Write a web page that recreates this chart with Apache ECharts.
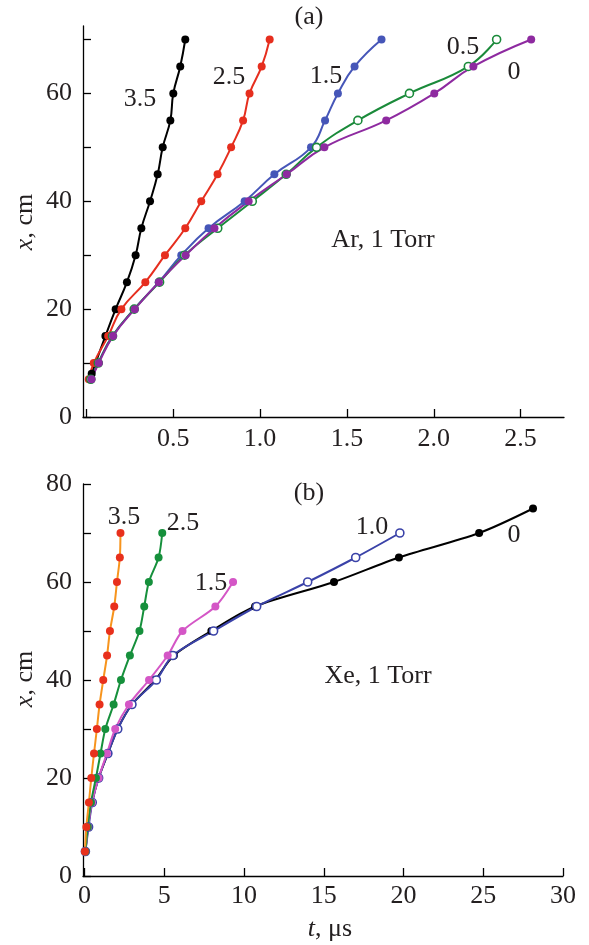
<!DOCTYPE html>
<html><head><meta charset="utf-8">
<script src="https://cdn.jsdelivr.net/npm/echarts@6/dist/echarts.min.js"></script>
<style>html,body{margin:0;padding:0;background:#fff}#c{width:589px;height:945px}</style>
</head><body><div id="c"></div>
<script>
// ---- Panel (a): Ar, 1 Torr ----
const aX = [7,10,15,20,25,30,35,40,45,50,55,60,65,70];
const aBlackX = [8,10,15,20,25,30,35,40,45,50,55,60,65,70];
const aBlackT = [0.03,0.052,0.109,0.168,0.233,0.283,0.316,0.366,0.410,0.439,0.483,0.500,0.540,0.569];
const aRedT   = [0.013,0.042,0.125,0.201,0.339,0.452,0.569,0.661,0.755,0.833,0.902,0.939,1.009,1.055];
const aBlueT  = [0.025,0.067,0.149,0.274,0.416,0.546,0.703,0.911,1.082,1.293,1.374,1.448,1.544,1.699];
const aGreenT = [0.025,0.068,0.150,0.275,0.421,0.565,0.756,0.955,1.150,1.325,1.563,1.860,2.199,2.362];
const aPurpleT= [0.029,0.071,0.153,0.278,0.417,0.571,0.737,0.934,1.153,1.370,1.726,2.003,2.228,2.561];
const aXTicks = [0,0.5,1,1.5,2,2.5];
const aXLabels = [0.5,1,1.5,2,2.5];
const aYTicks = [0,10,20,30,40,50,60,70];
const aYLabels = [0,20,40,60];

// ---- Panel (b): Xe, 1 Torr ----
const bX70 = [5,10,15,20,25,30,35,40,45,50,55,60,65,70];
const bX60 = [5,10,15,20,25,30,35,40,45,50,55,60];
const bX75 = [5,10,15,20,25,30,35,40,45,50,55,60,65,70,75];
const b35T = [0.02,0.11,0.27,0.42,0.59,0.77,0.94,1.17,1.41,1.59,1.86,2.03,2.21,2.25];
const b25T = [0.05,0.20,0.40,0.71,1.00,1.30,1.82,2.28,2.84,3.44,3.74,4.03,4.64,4.87];
const b15T = [0.05,0.22,0.46,0.88,1.40,1.92,2.78,4.04,5.21,6.14,8.20,9.31];
const b10T = [0.05,0.25,0.48,0.88,1.46,2.08,2.97,4.50,5.53,8.09,10.79,13.99,17.00,19.77];
const b0T  = [0.05,0.21,0.46,0.88,1.46,2.07,2.97,4.43,5.60,7.95,10.69,15.64,19.71,24.74,28.12];
const bXTicks = [0,5,10,15,20,25,30];
const bYTicks = [0,10,20,30,40,50,60,70,80];
const bYLabels = [0,20,40,60,80];

const FONT = "'Liberation Serif','DejaVu Serif',serif";
const TXT = '#231f20';
const FS = 26;

function pairs(t, x){ return t.map((v,i)=>[v, x[i]]); }

function ser(name, idx, t, x, lineColor, dotColor, open, sm){
  return {
    name, type:'line', xAxisIndex: idx, yAxisIndex: idx,
    data: pairs(t, x), smooth: sm,
    symbol:'circle', symbolSize: 8,
    lineStyle:{color: lineColor, width: 2},
    itemStyle: open ? {color:'#fff', borderColor: dotColor, borderWidth: 1.6}
                    : {color: dotColor, borderWidth: 0},
    emphasis:{disabled:true}, z: 2
  };
}

function axisCommon(){
  return {
    axisLine:{show:true, onZero:false, lineStyle:{color:'#000', width:1.3}},
    splitLine:{show:false}
  };
}
function tick(vals){ return {inside:true, length:8, customValues:vals, lineStyle:{color:'#000', width:1.3}}; }
function lab(vals, margin, fmt){ return {fontFamily:FONT, fontSize:FS, color:TXT, margin, customValues:vals, formatter:fmt}; }

const chart = echarts.init(document.getElementById('c'));
const opt = {
  animation:false,
  backgroundColor:'#fff',
  grid:[
    {left:83, right:25, top:26, height:391},
    {left:83, right:26, top:484, height:392}
  ],
  xAxis:[
    Object.assign(axisCommon(), {gridIndex:0, type:'value', min:-0.02, max:2.75,
      axisTick:tick(aXTicks), axisLabel:lab(aXLabels, 9, v=>v.toFixed(1))}),
    Object.assign(axisCommon(), {gridIndex:1, type:'value', min:-0.1, max:30,
      axisTick:tick(bXTicks), axisLabel:lab(bXTicks, 7, v=>String(v))})
  ],
  yAxis:[
    Object.assign(axisCommon(), {gridIndex:0, type:'value', min:0, max:72.5,
      axisTick:tick(aYTicks), axisLabel:lab(aYLabels, 11, v=>String(v))}),
    Object.assign(axisCommon(), {gridIndex:1, type:'value', min:0, max:80,
      axisTick:tick(bYTicks), axisLabel:lab(bYLabels, 11, v=>String(v))})
  ],
  series:[
    ser('a3.5',0,aBlackT,aBlackX,'#000','#000',false,0.45),
    ser('a2.5',0,aRedT,aX,'#e62e1e','#e62e1e',false,0.45),
    ser('a1.5',0,aBlueT,aX,'#4656b8','#4656b8',false,0.45),
    ser('a0.5',0,aGreenT,aX,'#1a8a3a','#1a8a3a',true,0.45),
    ser('a0',0,aPurpleT,aX,'#8e2aa0','#8e2aa0',false,0.45),
    ser('b0',1,b0T,bX75,'#000','#000',false,0.3),
    ser('b1.0',1,b10T,bX70,'#3a42a8','#3a42a8',true,0.3),
    ser('b1.5',1,b15T,bX60,'#d456c6','#d456c6',false,0.3),
    ser('b2.5',1,b25T,bX70,'#16903c','#16903c',false,0.3),
    ser('b3.5',1,b35T,bX70,'#f7941d','#e8301c',false,0.3)
  ],
  graphic:[
    {type:'text', x:309, y:17, style:{text:'(a)', font:FS+'px '+FONT, fill:TXT, align:'center', verticalAlign:'middle'}},
    {type:'text', x:309, y:493, style:{text:'(b)', font:FS+'px '+FONT, fill:TXT, align:'center', verticalAlign:'middle'}},
    {type:'text', x:383, y:240, style:{text:'Ar, 1 Torr', font:FS+'px '+FONT, fill:TXT, align:'center', verticalAlign:'middle'}},
    {type:'text', x:378, y:676, style:{text:'Xe, 1 Torr', font:FS+'px '+FONT, fill:TXT, align:'center', verticalAlign:'middle'}},
    {type:'text', x:140, y:99, style:{text:'3.5', font:FS+'px '+FONT, fill:TXT, align:'center', verticalAlign:'middle'}},
    {type:'text', x:229, y:77, style:{text:'2.5', font:FS+'px '+FONT, fill:TXT, align:'center', verticalAlign:'middle'}},
    {type:'text', x:326, y:76, style:{text:'1.5', font:FS+'px '+FONT, fill:TXT, align:'center', verticalAlign:'middle'}},
    {type:'text', x:463, y:47, style:{text:'0.5', font:FS+'px '+FONT, fill:TXT, align:'center', verticalAlign:'middle'}},
    {type:'text', x:514, y:72, style:{text:'0', font:FS+'px '+FONT, fill:TXT, align:'center', verticalAlign:'middle'}},
    {type:'text', x:124, y:517, style:{text:'3.5', font:FS+'px '+FONT, fill:TXT, align:'center', verticalAlign:'middle'}},
    {type:'text', x:183, y:523, style:{text:'2.5', font:FS+'px '+FONT, fill:TXT, align:'center', verticalAlign:'middle'}},
    {type:'text', x:211, y:583, style:{text:'1.5', font:FS+'px '+FONT, fill:TXT, align:'center', verticalAlign:'middle'}},
    {type:'text', x:372, y:527, style:{text:'1.0', font:FS+'px '+FONT, fill:TXT, align:'center', verticalAlign:'middle'}},
    {type:'text', x:514, y:535, style:{text:'0', font:FS+'px '+FONT, fill:TXT, align:'center', verticalAlign:'middle'}},
    {type:'text', x:25, y:222, rotation:Math.PI/2, style:{text:'{i|x}, cm', font:FS+'px '+FONT, fill:TXT, align:'center', verticalAlign:'middle',
      rich:{i:{fontStyle:'italic', fontFamily:FONT, fontSize:FS, fill:TXT}}}},
    {type:'text', x:25, y:679, rotation:Math.PI/2, style:{text:'{i|x}, cm', font:FS+'px '+FONT, fill:TXT, align:'center', verticalAlign:'middle',
      rich:{i:{fontStyle:'italic', fontFamily:FONT, fontSize:FS, fill:TXT}}}},
    {type:'text', x:330, y:929, style:{text:'{i|t}, μs', font:FS+'px '+FONT, fill:TXT, align:'center', verticalAlign:'middle',
      rich:{i:{fontStyle:'italic', fontFamily:FONT, fontSize:FS, fill:TXT}}}}
  ]
};
chart.setOption(opt);
</script></body></html>
